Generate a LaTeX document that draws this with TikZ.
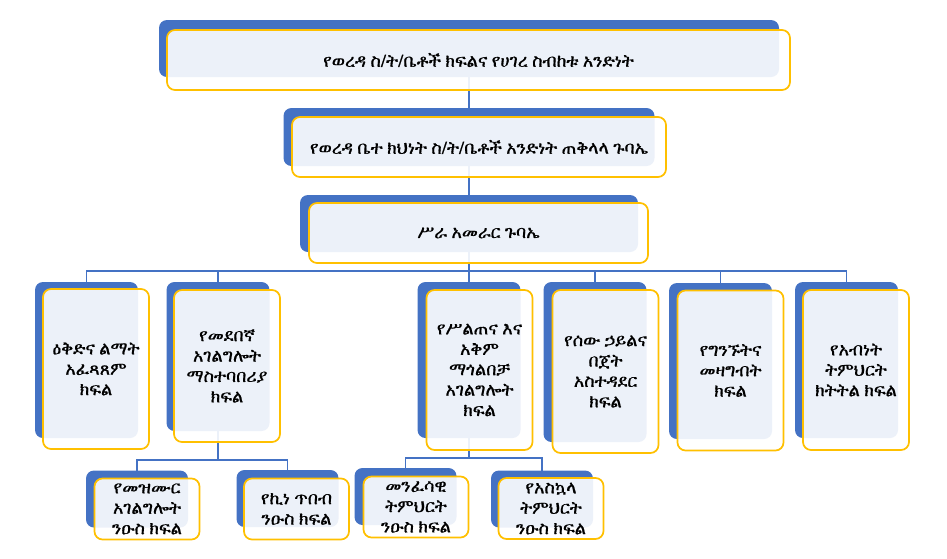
\documentclass[tikz,border=0pt]{standalone}
\usepackage{fontspec}
\usetikzlibrary{backgrounds}

\IfFontExistsTF{FreeSerif.otf}
  {\newfontfamily\ethfont[FakeBold=0.8]{FreeSerif.otf}}
  {\IfFontExistsTF{FreeSerif}
    {\newfontfamily\ethfont[FakeBold=0.8]{FreeSerif}}
    {\IfFontExistsTF{Abyssinica SIL}
      {\newfontfamily\ethfont{Abyssinica SIL}}
      {\newfontfamily\ethfont{DejaVu Sans}}}}

\definecolor{boxblue}{HTML}{4472C4}
\definecolor{boxgold}{HTML}{FFC000}

\tikzstyle{back} = [rectangle, rounded corners=6pt, fill=boxblue, inner sep=0pt]
\tikzstyle{front} = [rectangle, rounded corners=6pt, draw=boxgold, line width=1.3pt, fill=white, fill opacity=0.9, text opacity=1, align=center, inner sep=0pt, font=\ethfont\fontsize{13.3}{15.3}\selectfont]
\tikzstyle{unitback} = [back, minimum width=77.25pt, minimum height=117pt]
\tikzstyle{unitfront} = [front, minimum width=79.5pt, minimum height=120pt]
\tikzstyle{subback} = [back, minimum width=76.5pt, minimum height=42.75pt]
\tikzstyle{subfront} = [front, minimum width=78.75pt, minimum height=45.75pt]
\tikzstyle{link} = [draw=boxblue, line width=1.1pt]

\begin{document}
\begin{tikzpicture}[x=0.75pt, y=-0.75pt]

\useasboundingbox (0,0) rectangle (947,558);

\node (hqback) [back, minimum width=465pt, minimum height=42.75pt] at (469,48.5) {};
\node (hq) [front, minimum width=467.25pt, minimum height=45pt] at (478.5,60) {የወረዳ ስ/ት/ቤቶች ክፍልና የሀገረ ስብከቱ አንድነት};

\node (councilback) [back, minimum width=278.25pt, minimum height=43.5pt] at (469,137) {};
\node (council) [front, minimum width=280.5pt, minimum height=45pt] at (479,147) {የወረዳ ቤተ ክህነት ስ/ት/ቤቶች አንድነት ጠቅላላ ጉባኤ};

\node (execback) [back, minimum width=253.5pt, minimum height=42.75pt] at (469,223.5) {};
\node (exec) [front, minimum width=254.25pt, minimum height=45pt] at (478.5,233) {ሥራ አመራር ጉባኤ};

\node (planback) [unitback] at (86.5,360) {};
\node (plan) [unitfront] at (96,369) {ዕቅድና ልማት\\አፈጻጸም\\ክፍል};

\node (regularback) [unitback, minimum height=111.75pt] at (218,356.5) {};
\node (regular) [unitfront, minimum height=114pt] at (227,366) {የመደበኛ\\አገልግሎት\\ማስተባበሪያ\\ክፍል};

\node (trainingback) [unitback] at (469,360) {};
\node (training) [unitfront] at (479.5,370) {የሥልጠና እና\\አቅም\\ማጎልበቻ\\አገልግሎት\\ክፍል};

\node (staffback) [unitback, minimum height=120pt] at (595,362) {};
\node (staff) [unitfront, minimum height=122.25pt] at (605.5,371.5) {የሰው ኃይልና\\በጀት\\አስተዳደር\\ክፍል};

\node (recordsback) [unitback] at (720.5,361) {};
\node (records) [unitfront] at (730.5,370.5) {የግንኙትና\\መዛግብት\\ክፍል};

\node (schoolback) [unitback] at (846.5,360) {};
\node (school) [unitfront] at (856,370) {የአብነት\\ትምህርት\\ክትትል ክፍል};

\node (choirback) [subback] at (137,499) {};
\node (choir) [subfront] at (147,509) {የመዝሙር\\አገልግሎት\\ንዑስ ክፍል};

\node (artback) [subback] at (287.5,498.5) {};
\node (art) [subfront] at (296.5,509) {የኪነ ጥበብ\\ንዑስ ክፍል};

\node (spiritback) [subback] at (405.5,496.5) {};
\node (spirit) [subfront] at (416,507) {መንፈሳዊ\\ትምህርት\\ንዑስ ክፍል};

\node (modernback) [subback] at (542,499) {};
\node (modern) [subfront] at (551,508.5) {የአስኳላ\\ትምህርት\\ንዑስ ክፍል};

\coordinate (bus) at (469,271);
\coordinate (regularsplit) at (218,460);
\coordinate (trainingsplit) at (469,458);

\begin{pgfonlayer}{background}
\fill[white] (0,0) rectangle (947,558);
\draw[link] (hqback.center) -- (execback.center);
\draw[link] (execback.center) -- (bus);
\draw[link] (bus) -| (planback.center);
\draw[link] (bus) -| (regularback.center);
\draw[link] (bus) -- (trainingback.center);
\draw[link] (bus) -| (staffback.center);
\draw[link] (bus) -| (recordsback.center);
\draw[link] (bus) -| (schoolback.center);
\draw[link] (regularback.center) -- (regularsplit);
\draw[link] (regularsplit) -| (choirback.center);
\draw[link] (regularsplit) -| (artback.center);
\draw[link] (trainingback.center) -- (trainingsplit);
\draw[link] (trainingsplit) -| (spiritback.center);
\draw[link] (trainingsplit) -| (modernback.center);
\end{pgfonlayer}

\end{tikzpicture}
\end{document}
